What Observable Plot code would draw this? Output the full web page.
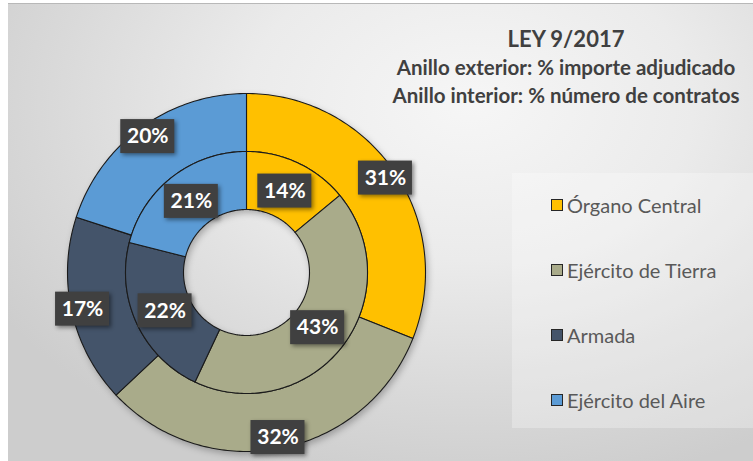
<!DOCTYPE html>
<html>
<head>
<meta charset="utf-8">
<script src="https://cdn.jsdelivr.net/npm/d3@7"></script>
<script src="https://cdn.jsdelivr.net/npm/@observablehq/plot@0.6"></script>
<style>
  html, body { margin: 0; padding: 0; background: #fff; }
  #wrap { position: relative; width: 753px; height: 461px; overflow: hidden; font-family: Lato, "Open Sans", sans-serif; }
  #bg { position: absolute; left: 8px; top: 3px; right: 0; bottom: 0;
        border-top: 1px solid #b8b8b8;
        background: radial-gradient(ellipse 75% 85% at 62% 22%, #f6f6f6 0%, #ebebeb 40%, #d9d9d9 75%, #cdcdcd 100%); }
  #legendbox { position: absolute; left: 512px; top: 173px; width: 241px; height: 255px; background: rgba(255,255,255,0.28); }
  #title { position: absolute; left: 366px; top: 25px; width: 400px; text-align: center; color: #404040; font-weight: 700; }
  #title .t1 { font-size: 22px; line-height: 28px; }
  #title .t2 { font-size: 20.5px; line-height: 28px; white-space: nowrap; }
  #chart { position: absolute; left: 0; top: 0; }
  #legend { position: absolute; left: 551px; top: 0; }
  .item { position: absolute; left: 0; white-space: nowrap; font-size: 20px; color: #595959; display: flex; align-items: center; }
  .sw { width: 10px; height: 10px; border: 1.5px solid #262626; margin-right: 4px; }
</style>
</head>
<body>
<div id="wrap">
  <div id="bg"></div>
  <div id="legendbox"></div>
  <div id="chart"></div>
  <div id="title">
    <div class="t1">LEY 9/2017</div>
    <div class="t2">Anillo exterior: % importe adjudicado</div>
    <div class="t2">Anillo interior: % número de contratos</div>
  </div>
  <div id="legend"></div>
</div>
<script>
// ---- data ----
const categories = ["Órgano Central", "Ejército de Tierra", "Armada", "Ejército del Aire"];
const outerValues = [31, 32, 17, 20];   // % importe adjudicado
const innerValues = [14, 43, 22, 21];   // % número de contratos
const colors = ["#FFC000", "#A9AB8A", "#44546A", "#5B9BD5"];

// ---- layout ----
const W = 753, H = 461;
const cx = 246, cy = 272;
const rHole = 63, rMid = 121, rOut = 179;
const rings = [
  {name: "outer", values: outerValues, r0: rMid, r1: rOut, rLabel: 168},
  {name: "inner", values: innerValues, r0: rHole, r1: rMid, rLabel: 90}
];

const polys = [];
const labels = [];
for (const ring of rings) {
  const total = d3.sum(ring.values);
  let acc = 0;
  ring.values.forEach((v, i) => {
    const a0 = acc / total * 2 * Math.PI;
    acc += v;
    const a1 = acc / total * 2 * Math.PI;
    const key = ring.name + i;
    const n = Math.max(2, Math.ceil((a1 - a0) / (Math.PI / 180)));
    const pts = [];
    for (let k = 0; k <= n; k++) {
      const a = a0 + (a1 - a0) * k / n;
      pts.push({key, cat: categories[i], x: ring.r1 * Math.sin(a), y: ring.r1 * Math.cos(a)});
    }
    for (let k = n; k >= 0; k--) {
      const a = a0 + (a1 - a0) * k / n;
      pts.push({key, cat: categories[i], x: ring.r0 * Math.sin(a), y: ring.r0 * Math.cos(a)});
    }
    pts.push({...pts[0]});
    polys.push(...pts);
    const am = (a0 + a1) / 2;
    labels.push({text: v + "%", x: ring.rLabel * Math.sin(am), y: ring.rLabel * Math.cos(am)});
  });
}

const bw = 27, bh = 17;
const plot = Plot.plot({
  width: W, height: H,
  margin: 0,
  x: {domain: [-cx, W - cx], axis: null},
  y: {domain: [-(H - cy), cy], axis: null},
  color: {domain: categories, range: colors},
  style: {background: "transparent", overflow: "visible"},
  marks: [
    Plot.line(polys, {x: "x", y: "y", z: "key", fill: "cat", stroke: "#1b1b1b", strokeWidth: 1.1, curve: "linear"}),
    Plot.rect(labels, {x1: d => d.x - bw, x2: d => d.x + bw, y1: d => d.y - bh, y2: d => d.y + bh, fill: "#404040"}),
    Plot.text(labels, {x: "x", y: "y", text: "text", fill: "white", fontSize: 21, fontWeight: "bold", fontFamily: "Lato, 'Open Sans', sans-serif"})
  ]
});
d3.select(plot).selectAll("g[aria-label=rect] rect").style("filter", "drop-shadow(2px 2px 2px rgba(0,0,0,0.45))");
d3.select(plot).selectAll("g[aria-label=line]").style("filter", "drop-shadow(2px 3px 3px rgba(0,0,0,0.25))");
document.getElementById("chart").appendChild(plot);

// ---- legend ----
const legend = d3.select("#legend");
categories.forEach((c, i) => {
  const it = legend.append("div").attr("class", "item").style("top", (193 + i * 65) + "px");
  it.append("div").attr("class", "sw").style("background", colors[i]);
  it.append("span").text(c);
});
</script>
</body>
</html>
